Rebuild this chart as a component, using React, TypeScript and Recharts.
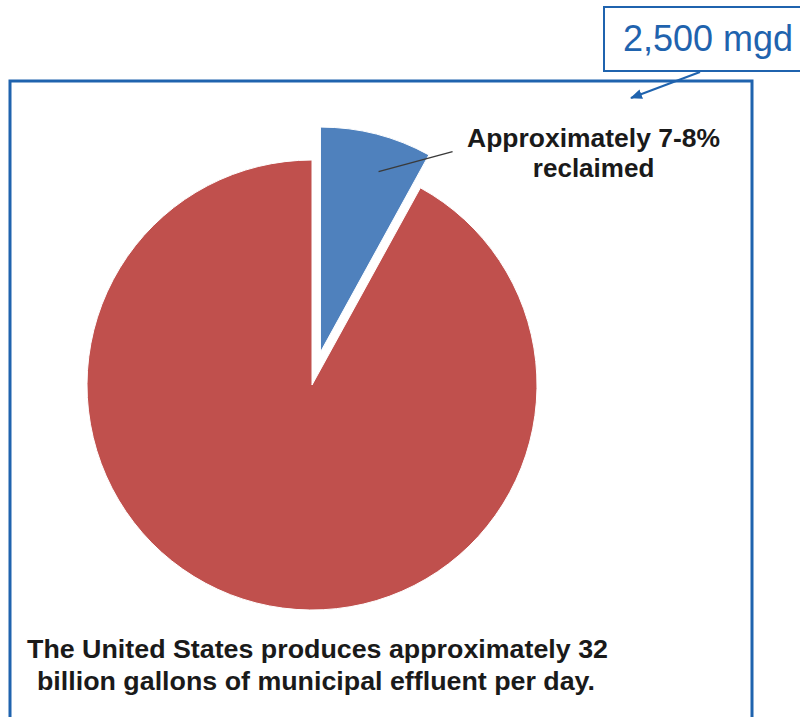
import React from "react";
import { PieChart, Pie, Cell } from "recharts";

// Share of US municipal effluent (percent)
const categories = ["Reclaimed", "Not reclaimed"];
const shares = [8, 92];
const sliceColors = ["#4F81BD", "#C0504D"];

const labelLines = ["Approximately 7-8%", "reclaimed"];
const footnoteLines = [
  "The United States produces approximately 32",
  "billion gallons of municipal effluent per day.",
];
const calloutText = "2,500 mgd";

const W = 800;
const H = 717;
const CX = 312;
const CY = 385;
const R = 225;
const EXPLODE = 34;
const frameBlue = "#1F63AE";

const data = categories.map((name, i) => ({ name, value: shares[i] }));

// mid angle of the first slice (start at 12 o'clock, clockwise)
const total = shares.reduce((a, b) => a + b, 0);
const blueMid = 90 - (shares[0] / total) * 180;
const RAD = Math.PI / 180;
const explodedCx = CX + EXPLODE * Math.cos(blueMid * RAD);
const explodedCy = CY - EXPLODE * Math.sin(blueMid * RAD);

function renderLabel(props: any) {
  if (props.index !== 0) return null;
  const { cx, cy, midAngle, outerRadius } = props;
  const sx = cx + outerRadius * 0.86 * Math.cos(-midAngle * RAD) + 10;
  const sy = cy + outerRadius * 0.86 * Math.sin(-midAngle * RAD) + 7;
  const ex = sx + 74;
  const ey = sy - 20;
  return (
    <g>
      <line x1={sx} y1={sy} x2={ex} y2={ey} stroke="#3a3a3a" strokeWidth={1.5} />
      <text
        x={ex + 141}
        y={ey - 5}
        textAnchor="middle"
        fontFamily="'Liberation Sans', Arial, sans-serif"
        fontWeight="bold"
        fontSize={26}
        fill="#1a1a1a"
        textLength={253}
        lengthAdjust="spacingAndGlyphs"
      >
        {labelLines[0]}
      </text>
      <text
        x={ex + 141}
        y={ey + 25}
        textAnchor="middle"
        fontFamily="'Liberation Sans', Arial, sans-serif"
        fontWeight="bold"
        fontSize={26}
        fill="#1a1a1a"
      >
        {labelLines[1]}
      </text>
    </g>
  );
}

export default function App() {
  return (
    <div style={{ position: "absolute", left: 0, top: 0, width: W, height: H, background: "#fff", overflow: "hidden" }}>
      <PieChart width={W} height={H} margin={{ top: 0, right: 0, bottom: 0, left: 0 }}>
        {/* base pie: the red remainder */}
        <Pie
          data={data}
          dataKey="value"
          nameKey="name"
          cx={CX}
          cy={CY}
          outerRadius={R}
          startAngle={90}
          endAngle={-270}
          stroke="#fff"
          strokeWidth={1}
          labelLine={false}
          isAnimationActive={false}
        >
          {data.map((d, i) => (
            <Cell key={d.name} fill={i === 0 ? "none" : sliceColors[i]} stroke={i === 0 ? "none" : "#fff"} />
          ))}
        </Pie>
        {/* exploded reclaimed slice */}
        <Pie
          data={data}
          dataKey="value"
          nameKey="name"
          cx={explodedCx}
          cy={explodedCy}
          outerRadius={R}
          startAngle={90}
          endAngle={-270}
          stroke="#fff"
          strokeWidth={1}
          label={renderLabel}
          labelLine={false}
          isAnimationActive={false}
        >
          {data.map((d, i) => (
            <Cell key={d.name} fill={i === 0 ? sliceColors[i] : "none"} stroke={i === 0 ? "#fff" : "none"} />
          ))}
        </Pie>
      </PieChart>

      <svg width={W} height={H} style={{ position: "absolute", left: 0, top: 0, pointerEvents: "none" }}>
        <defs>
          <marker id="arrow" markerWidth="12" markerHeight="10" refX="11" refY="5" orient="auto" markerUnits="userSpaceOnUse">
            <path d="M0,0 L12,5 L0,10 z" fill={frameBlue} />
          </marker>
        </defs>
        {/* frame */}
        <rect x={10} y={81} width={742} height={H} fill="none" stroke={frameBlue} strokeWidth={3} />
        {/* callout */}
        <rect x={604} y={7} width={220} height={64} fill="#fff" stroke={frameBlue} strokeWidth={2} />
        <text x={623} y={51} fontFamily="'Liberation Sans', Arial, sans-serif" fontSize={36} fill={frameBlue}>
          {calloutText}
        </text>
        <line x1={700} y1={72} x2={631} y2={98} stroke={frameBlue} strokeWidth={2} markerEnd="url(#arrow)" />
        {/* footnote */}
        <text
          x={27}
          y={658}
          fontFamily="'Liberation Sans Narrow', 'Liberation Sans', Arial, sans-serif"
          fontWeight="bold"
          fontSize={25}
          fill="#1a1a1a"
          textLength={581}
          lengthAdjust="spacingAndGlyphs"
        >
          {footnoteLines[0]}
        </text>
        <text
          x={37}
          y={690}
          fontFamily="'Liberation Sans Narrow', 'Liberation Sans', Arial, sans-serif"
          fontWeight="bold"
          fontSize={25}
          fill="#1a1a1a"
          textLength={558}
          lengthAdjust="spacingAndGlyphs"
        >
          {footnoteLines[1]}
        </text>
      </svg>
    </div>
  );
}
